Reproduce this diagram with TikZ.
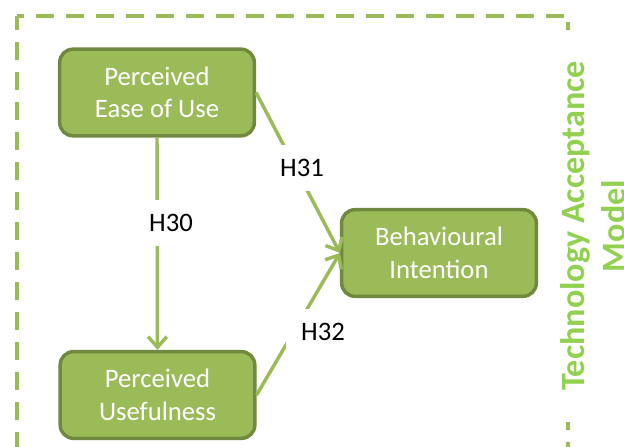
\documentclass[tikz,border=0pt]{standalone}
\usepackage{fontspec}
\setmainfont{Carlito}
\usetikzlibrary{arrows.meta}
\definecolor{olive}{HTML}{9BBB59}
\definecolor{olivedark}{HTML}{71893F}
\definecolor{titlegreen}{HTML}{92D050}

\begin{document}
\begin{tikzpicture}[x=0.75pt,y=-0.75pt,
  construct/.style={draw=olivedark, fill=olive, line width=2.6pt,
    rounded corners=10pt, minimum width=146pt, minimum height=65pt,
    align=center, text=white, inner sep=2pt,
    font=\fontsize{20}{24.4}\selectfont},
  link/.style={draw=olive, line width=2.6pt,
    -{Straight Barb[length=8pt,width=14pt]}},
  hyp/.style={fill=white, minimum width=55.5pt, minimum height=34.5pt,
    inner sep=0pt, font=\fontsize{20}{24}\selectfont},
  frame/.style={draw=olive, line width=2.6pt, dash pattern=on 13.5pt off 9pt},
  title/.style={rotate=90, fill=white, text=titlegreen, align=center,
    inner xsep=23pt, inner ysep=1pt,
    font=\fontsize{25.6}{31}\bfseries\selectfont}]

  \useasboundingbox (0,0) rectangle (624,446);

  % dashed frame around the model
  \coordinate (tl) at (17,16);
  \coordinate (tr) at (568,16);
  \coordinate (bl) at (17,470);
  \coordinate (br) at (568,470);
  \draw[frame, dash phase=3pt] (tl) -- (bl);
  \draw[frame, dash phase=8.25pt] (tl) -- (tr);
  \draw[frame, dash phase=18pt] (tr) -- (br);

  % constructs
  \node[construct] (peou) at (157,92.5) {Perceived\\Ease of Use};
  \node[construct] (pu)   at (157.5,395) {Perceived\\Usefulness};
  \node[construct] (bi)   at (439,253) {Behavioural\\Intention};

  % hypothesised paths
  \draw[link] (peou.south) -- (pu.north);
  \draw[link] (peou.east) -- (bi.west);
  \draw[link] (pu.east) -- (bi.west);

  % hypothesis labels
  \node[hyp] (h30) at (171,223) {H30};
  \node[hyp] (h31) at (302,168) {H31};
  \node[hyp] (h32) at (323,332) {H32};

  % model title
  \node[title, anchor=north] (tam) at (559,226)
    {Technology Acceptance\\Model};
\end{tikzpicture}
\end{document}
